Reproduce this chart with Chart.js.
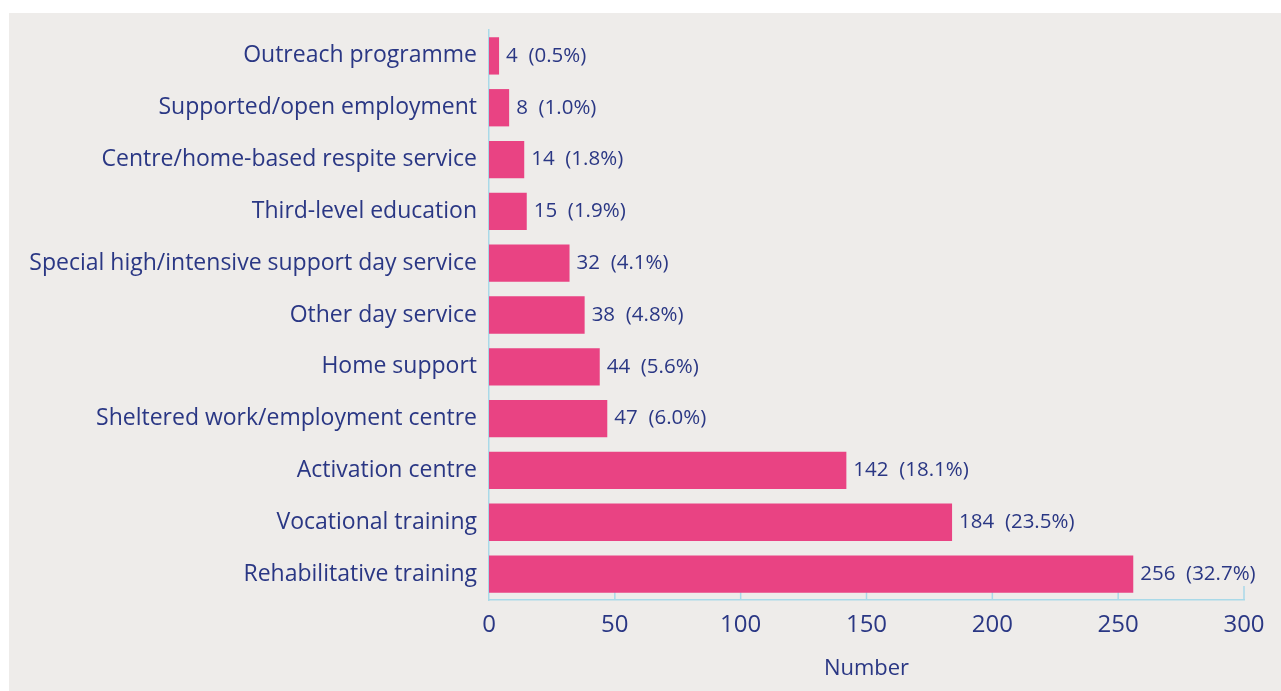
<!DOCTYPE html>
<html>
<head>
<meta charset="utf-8">
<script src="https://cdn.jsdelivr.net/npm/chart.js@4"></script>
<style>
    html, body { margin: 0; padding: 0; background: #ffffff; }
    #panel {
        position: absolute;
        left: 9px;
        top: 13px;
        width: 1272px;
        height: 678px;
        background: #eeecea;
    }
</style>
</head>
<body>
<div id="panel">
    <canvas id="services-chart" width="1272" height="678"></canvas>
</div>
<script>
const services = [
    "Outreach programme",
    "Supported/open employment",
    "Centre/home-based respite service",
    "Third-level education",
    "Special high/intensive support day service",
    "Other day service",
    "Home support",
    "Sheltered work/employment centre",
    "Activation centre",
    "Vocational training",
    "Rehabilitative training"
];
const counts = [4, 8, 14, 15, 32, 38, 44, 47, 142, 184, 256];
const percents = ["0.5", "1.0", "1.8", "1.9", "4.1", "4.8", "5.6", "6.0", "18.1", "23.5", "32.7"];
const x_ticks = [0, 50, 100, 150, 200, 250, 300];

const text_colour = "#2a3784";
const bar_colour = "#e94383";
const axis_colour = "#a9d9e8";
const font_family = "'Open Sans', sans-serif";

// short tick marks that point up into the plot, drawn behind the bars
const innerTicks = {
    id: "innerTicks",
    beforeDatasetsDraw(chart) {
        const ctx = chart.ctx;
        const xs = chart.scales.x;
        const bottom = chart.chartArea.bottom;
        ctx.save();
        ctx.strokeStyle = axis_colour;
        ctx.lineWidth = 1.5;
        x_ticks.forEach(v => {
            if (v === 0) return;
            const px = xs.getPixelForValue(v);
            ctx.beginPath();
            ctx.moveTo(px, bottom);
            ctx.lineTo(px, bottom - 14);
            ctx.stroke();
        });
        ctx.restore();
    }
};

// "n  (p%)" at the end of each bar
const endLabels = {
    id: "endLabels",
    afterDatasetsDraw(chart) {
        const ctx = chart.ctx;
        const meta = chart.getDatasetMeta(0);
        ctx.save();
        ctx.font = "20.5px " + font_family;
        ctx.fillStyle = text_colour;
        ctx.textAlign = "left";
        ctx.textBaseline = "middle";
        meta.data.forEach((bar, i) => {
            ctx.fillText(`${counts[i]}  (${percents[i]}%)`, bar.x + 7, bar.y);
        });
        ctx.restore();
    }
};

const config_bar = {
    type: "bar",
    data: {
        labels: services,
        datasets: [{
            data: counts,
            backgroundColor: bar_colour,
            borderWidth: 0,
            categoryPercentage: 1.0,
            barPercentage: 0.72
        }]
    },
    options: {
        indexAxis: "y",
        responsive: false,
        animation: false,
        layout: {
            padding: { top: 17, right: 37, bottom: 0, left: 0 }
        },
        plugins: {
            legend: { display: false },
            tooltip: { enabled: false }
        },
        scales: {
            x: {
                min: 0,
                max: 300,
                afterBuildTicks: (scale) => {
                    scale.ticks = x_ticks.map(v => ({ value: v }));
                },
                afterFit: (scale) => { scale.height = 91; },
                grid: { display: false, drawTicks: false },
                border: { display: true, color: axis_colour, width: 1.5 },
                ticks: {
                    color: text_colour,
                    font: { family: font_family, size: 24 },
                    padding: 11,
                    maxRotation: 0
                },
                title: {
                    display: true,
                    text: "Number",
                    color: text_colour,
                    font: { family: font_family, size: 22 },
                    padding: { top: 0, bottom: 9 }
                }
            },
            y: {
                afterFit: (scale) => {
                    scale.width = 480;
                    scale.paddingTop = 0;      // don't let label height push the plot down
                    scale.paddingBottom = 0;
                },
                grid: { display: false, drawTicks: false },
                border: { display: true, color: axis_colour, width: 1.5 },
                ticks: {
                    color: text_colour,
                    font: { family: font_family, size: 23 },
                    padding: 12
                }
            }
        }
    },
    plugins: [innerTicks, endLabels]
};

const ctx_bar = document.getElementById("services-chart").getContext("2d");
const bar_chart = new Chart(ctx_bar, config_bar);
</script>
</body>
</html>
